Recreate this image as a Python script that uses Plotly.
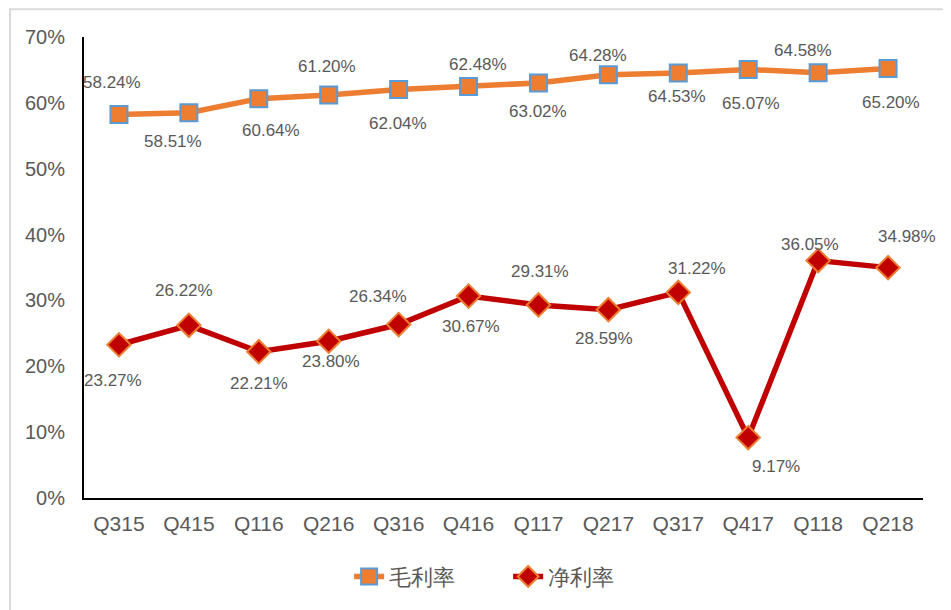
import plotly.graph_objects as go

quarters = ["Q315", "Q415", "Q116", "Q216", "Q316", "Q416", "Q117", "Q217", "Q317", "Q417", "Q118", "Q218"]
gross_margin = [58.24, 58.51, 60.64, 61.20, 62.04, 62.48, 63.02, 64.28, 64.53, 65.07, 64.58, 65.20]
net_margin = [23.27, 26.22, 22.21, 23.80, 26.34, 30.67, 29.31, 28.59, 31.22, 9.17, 36.05, 34.98]
y_ticks = [0, 10, 20, 30, 40, 50, 60, 70]
series_names = ["毛利率", "净利率"]

# label offsets (px) relative to each marker: (dx, dy up)
gross_offsets = [(-7, 32), (-16, -29), (12, -32), (-2, 28), (-1, -34), (9, 22),
                 (0, -29), (-10, 19), (-1, -23), (3, -34), (-15, 22), (3, -34)]
net_offsets = [(-6, -36), (-5, 35), (0, -32), (2, -20), (-21, 28), (2, -30),
               (2, 33), (-4, -29), (19, 24), (28, -29), (-8, 16), (19, 31)]

TXT = "#595959"
FONT = "Liberation Sans, Arial, sans-serif"

fig = go.Figure()
fig.add_trace(go.Scatter(
    x=quarters, y=gross_margin, name=series_names[0], mode="lines+markers",
    line=dict(color="#ED7D31", width=5.5),
    marker=dict(symbol="square", size=17, color="#ED7D31", line=dict(color="#5B9BD5", width=2)),
))
fig.add_trace(go.Scatter(
    x=quarters, y=net_margin, name=series_names[1], mode="lines+markers",
    line=dict(color="#C00000", width=5.5),
    marker=dict(symbol="diamond", size=18, color="#C00000", line=dict(color="#ED7D31", width=2)),
))

for vals, offs in ((gross_margin, gross_offsets), (net_margin, net_offsets)):
    for q, v, (dx, dy) in zip(quarters, vals, offs):
        fig.add_annotation(x=q, y=v, text=f"{v:.2f}%", showarrow=False,
                           xshift=dx, yshift=dy, font=dict(size=17, color=TXT, family=FONT))

# outer chart border
fig.add_shape(type="rect", xref="paper", yref="paper", x0=-0.0882, x1=1.06, y0=-0.3, y1=1.0603,
              line=dict(color="#D9D9D9", width=2), fillcolor="rgba(0,0,0,0)", layer="below")

fig.update_layout(
    width=943, height=602,
    margin=dict(l=76, r=28, t=29, b=109),
    paper_bgcolor="white", plot_bgcolor="white",
    font=dict(family=FONT, color=TXT, size=20),
    showlegend=True,
    legend=dict(orientation="h", x=0.316, xanchor="left", y=-0.125, yanchor="top",
                font=dict(size=22, color=TXT), entrywidth=114, entrywidthmode="pixels"),
    xaxis=dict(type="category", showgrid=False, showline=True, linecolor="#000000", linewidth=2,
               ticks="", tickfont=dict(size=21, color=TXT), range=[-0.5, 11.5],
               ticklabelstandoff=6),
    yaxis=dict(range=[0, 70], tickvals=y_ticks, ticktext=[f"{t}%" for t in y_ticks],
               showgrid=False, zeroline=False, showline=True, linecolor="#000000", linewidth=2,
               ticks="", tickfont=dict(size=20, color=TXT), ticklabelstandoff=13),
)

fig.write_html("out.html")
